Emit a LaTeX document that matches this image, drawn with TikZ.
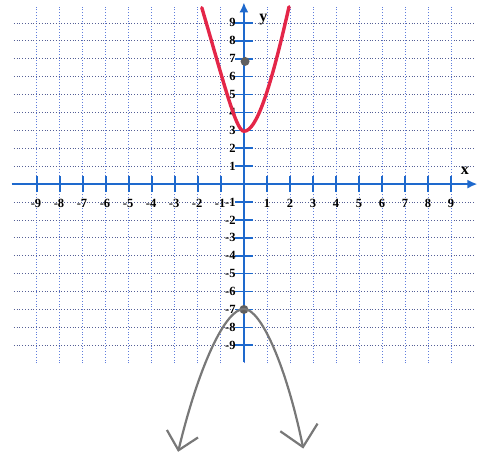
\documentclass[tikz,border=0pt]{standalone}
\usepackage{fontspec}
\setmainfont{Liberation Serif}
\usepackage{xcolor}
\usepackage{tikz}
\usetikzlibrary{arrows.meta}

\definecolor{axisblue}{RGB}{30,105,205}
\definecolor{gridblue}{RGB}{95,125,220}
\definecolor{gridgray}{RGB}{85,95,150}
\definecolor{curvered}{RGB}{228,38,72}
\definecolor{curvegray}{RGB}{120,120,120}
\definecolor{dotgray}{RGB}{95,95,95}

\tikzset{
  vgrid/.style={gridblue, dotted, line width=0.8pt},
  hgrid/.style={gridgray, dotted, line width=0.8pt},
  axisline/.style={axisblue, line width=2.4pt, -{Latex[length=10pt,width=9pt]}},
  tickmark/.style={axisblue, line width=1.6pt},
  numlabel/.style={font=\bfseries\fontsize{12.5}{12.5}\selectfont, inner sep=0pt},
  axislabel/.style={font=\bfseries\fontsize{16}{16}\selectfont, inner sep=0pt},
  redcurve/.style={curvered, line width=3.4pt, line cap=round},
  graycurve/.style={curvegray, line width=2.2pt,
    {Straight Barb[length=17pt,width=32pt]}-{Straight Barb[length=20pt,width=38pt]}},
  dotmark/.style={circle, fill=dotgray, inner sep=0pt, minimum size=9pt}
}

\begin{document}
\begin{tikzpicture}[x=23pt, y=17.9pt]
            \useasboundingbox (-10.6,-15.25) rectangle (10.26,10.28);

            % Grid
            \foreach \k in {-9,...,9} {
              \draw[vgrid] (\k,-10) -- (\k,10);
              \draw[hgrid] (-10,\k) -- (10,\k);
            }

            % Axes
            \coordinate (xstart) at (-10.1,0);
            \coordinate (xend) at (10.15,0);
            \coordinate (ystart) at (0,-9.95);
            \coordinate (yend) at (0,10.15);
            \draw[axisline] (xstart) -- (xend);
            \draw[axisline] (ystart) -- (yend);
            \node[axislabel] (xlabel) at (9.6,0.75) {x};
            \node[axislabel] (ylabel) at (0.85,9.2) {y};

            % Ticks and numbers
            \foreach \k in {-9,...,-1,1,2,...,9} {
              \draw[tickmark] (\k,-0.45) -- (\k,0.45);
              \draw[tickmark] (-0.38,\k) -- (0.38,\k);
              \node[numlabel, anchor=east] (ynum\k) at (-0.35,\k) {\k};
            }
            \foreach \k in {-9,...,-1} {
              \node[numlabel, anchor=base east] (xnum\k) at (\k+0.2,-1.3) {\k};
            }
            \foreach \k in {1,...,9} {
              \node[numlabel, anchor=base] (xnum\k) at (\k,-1.3) {\k};
            }

            % Red parabola
            \coordinate (redtop1) at (-1.83,9.85);
            \coordinate (redvertex) at (0,2.95);
            \coordinate (redtop2) at (1.96,9.9);
            \draw[redcurve] (redtop1) .. controls (-0.9,5.8) and (-0.35,2.95) .. (redvertex)
              .. controls (0.55,2.95) and (1.15,5.3) .. (redtop2);

            % Points
            \node[dotmark] (upperdot) at (0.05,6.85) {};
            \node[dotmark] (lowerdot) at (0,-7) {};

            % Gray parabola
            \coordinate (grayend1) at (-2.86,-14.95);
            \coordinate (grayvertex) at (0,-6.97);
            \coordinate (grayend2) at (2.58,-14.77);
            \draw[graycurve] (grayend1) .. controls (-1.95,-10.1) and (-0.8,-6.97) .. (grayvertex)
              .. controls (0.75,-6.97) and (1.85,-10.2) .. (grayend2);
        \end{tikzpicture}
\end{document}
